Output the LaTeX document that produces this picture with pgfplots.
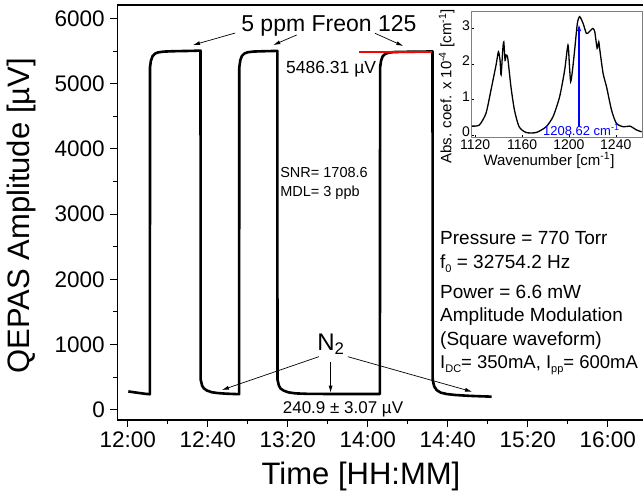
\documentclass[border=0pt]{standalone}
\usepackage{fontspec}
\setmainfont{Liberation Sans}
\usepackage{pgfplots}
\pgfplotsset{compat=1.18}
\usetikzlibrary{arrows.meta}

\newcommand{\fs}[1]{\fontsize{#1}{#1}\selectfont}
\newcommand{\lsub}[1]{\raisebox{-0.45ex}{\fs{11}#1}}

% QEPAS signal, time in minutes after 12:00, amplitude in microvolt
\pgfplotstableread{
t v
0.3 280
3 268
6 255
9 243
11.1 237
11.15 5250
11.6 5350
12.4 5420
13.6 5460
15.2 5480
18 5492
22 5497
26 5500
30 5502
34 5505
36.4 5508
36.5 460
37.2 370
38 330
39.5 295
42 268
45 255
49 246
53 241
55.7 238
55.8 5250
56.3 5360
57.1 5425
58.3 5462
60 5482
63 5493
67 5497
71 5500
74.8 5503
74.9 460
75.6 370
76.4 325
78 292
80.5 265
84 250
90 243
100 241
110 241
120 240
126.1 240
126.2 5250
126.7 5355
127.5 5420
128.7 5455
130.4 5475
133 5485
137 5488
142 5490
148 5492
152.4 5495
152.5 460
153.2 360
154.5 300
156.5 262
159.5 240
164 225
171 212
177 205
182 200
}\signal

% absorption spectrum of Freon 125
\pgfplotstableread{
w a
1117.2 0.25
1123.5 0.28
1129.2 0.61
1133.5 1.27
1137.8 1.97
1139.8 2.34
1141.2 2.10
1142.1 1.69
1143.5 2.39
1144.4 2.62
1145.5 2.10
1146.4 2.25
1147.8 2.16
1150.5 1.36
1153.5 0.70
1157.5 0.23
1163.5 0.07
1172.1 0.07
1180.5 0.23
1186.5 0.52
1192.1 1.08
1196.4 1.83
1199.2 2.53
1200.5 1.92
1201.5 1.50
1202.9 1.78
1204.9 2.39
1207.2 3.14
1209.2 3.33
1212.1 3.14
1214.9 2.86
1217.2 2.90
1220.5 3.00
1222.1 2.90
1224.1 2.44
1225.5 2.62
1226.4 2.39
1229.2 1.73
1232.1 1.36
1236.4 0.70
1240.5 0.33
1246.5 0.23
1252.1 0.25
1257.8 0.14
1262.1 0.09
}\spectrum

\begin{document}
\begin{tikzpicture}
\useasboundingbox (-117.3pt,-74pt) rectangle (525.7pt,420pt);
\begin{axis}[
    scale only axis,
    width=525.7pt, height=415pt,
    xmin=-5.2, xmax=257.65,
    ymin=-158, ymax=6207,
    axis y line*=left,
    xtick pos=bottom, ytick pos=left,
    xtick={0,40,...,240},
    xticklabels={12:00,12:40,13:20,14:00,14:40,15:20,16:00},
    ytick={0,1000,...,6000},
    minor x tick num=1, minor y tick num=1,
    tick align=outside,
    major tick length=7pt, minor tick length=4pt,
    every tick/.style={black, line width=1pt},
    axis line style={line width=1.2pt},
    /pgf/number format/assume math mode=true,
    /pgf/number format/1000 sep={},
    tick label style={font=\fs{22.5}},
    xticklabel style={yshift=-1pt},
    yticklabel style={xshift=-2pt},
    xlabel={Time [HH:MM]},
    ylabel={QEPAS Amplitude [µV]},
    label style={font=\fs{31}},
    xlabel style={at={(axis description cs:0.4636,-0.137)}, anchor=center},
    ylabel style={at={(axis description cs:-0.183,0.492)}, anchor=center},
    clip=false,
]
\addplot[black, line width=2.6pt, line join=round] table[x=t, y=v] {\signal};
\addplot[red, line width=2.2pt] coordinates {(115.8,5486.31) (152,5486.31)};

\node[font=\fs{23}, anchor=base] at (axis cs:100.6,5793) {5 ppm Freon 125};
\draw[-{Latex[length=7pt,width=4pt]}, line width=0.7pt] (axis cs:53.75,5777) -- (axis cs:32.65,5593);
\draw[-{Latex[length=7pt,width=4pt]}, line width=0.7pt] (axis cs:84.5,5747) -- (axis cs:72.8,5593);
\draw[-{Latex[length=7pt,width=4pt]}, line width=0.7pt] (axis cs:123.65,5773) -- (axis cs:137.8,5578);
\node[font=\fs{17.5}, anchor=base west, inner sep=0pt] at (axis cs:79.15,5149) {5486.31 µV};

\node[font=\fs{14.5}, anchor=base west, inner sep=0pt] at (axis cs:76.2,3554) {SNR= 1708.6};
\node[font=\fs{14.5}, anchor=base west, inner sep=0pt] at (axis cs:76.2,3267) {MDL= 3 ppb};

\node[font=\fs{24}, inner sep=0pt] at (axis cs:101.6,1000) {N\textsubscript{2}};
\draw[-{Latex[length=7pt,width=4pt]}, line width=0.7pt] (axis cs:95.6,813) -- (axis cs:47.1,302);
\draw[-{Latex[length=7pt,width=4pt]}, line width=0.7pt] (axis cs:101.45,736) -- (axis cs:101.45,261);
\draw[-{Latex[length=7pt,width=4pt]}, line width=0.7pt] (axis cs:110.05,813) -- (axis cs:172.15,276);
\node[font=\fs{17}, anchor=base, inner sep=0pt] at (axis cs:107.65,-55) {240.9 ± 3.07 µV};

\node[font=\fs{19}, anchor=base west, inner sep=0pt] at (axis cs:156.15,2526) {Pressure = 770 Torr};
\node[font=\fs{19}, anchor=base west, inner sep=0pt] at (axis cs:156.15,2169) {f\lsub{0} = 32754.2 Hz};
\node[font=\fs{19}, anchor=base west, inner sep=0pt] at (axis cs:156.15,1709) {Power = 6.6 mW};
\node[font=\fs{19}, anchor=base west, inner sep=0pt] at (axis cs:156.15,1350) {Amplitude Modulation};
\node[font=\fs{19}, anchor=base west, inner sep=0pt] at (axis cs:156.15,992) {(Square waveform)};
\node[font=\fs{18.5}, anchor=base west, inner sep=0pt] at (axis cs:156.15,635) {I\lsub{DC}= 350mA, I\lsub{pp}= 600mA};
\end{axis}

\begin{axis}[
    at={(354.4pt,282.7pt)}, anchor=south west,
    scale only axis,
    width=171pt, height=125.6pt,
    xmin=1117, xmax=1263,
    ymin=-0.065, ymax=3.47,
    xtick={1120,1160,1200,1240},
    ytick={0,1,2,3},
    xtick pos=bottom, ytick pos=left,
    tick align=inside,
    major tick length=2.5pt,
    every tick/.style={black, line width=0.5pt},
    axis line style={gray, line width=0.8pt},
    /pgf/number format/assume math mode=true,
    /pgf/number format/1000 sep={},
    tick label style={font=\fs{14}},
    xticklabel style={inner sep=1pt, yshift=-1.5pt},
    yticklabel style={inner sep=1.5pt, yshift=3pt},
    xlabel={Wavenumber [cm\textsuperscript{-1}]},
    ylabel={Abs. coef. x 10\textsuperscript{-4} [cm\textsuperscript{-1}]},
    label style={font=\fs{15}},
    xlabel style={at={(axis description cs:0.452,-0.185)}, anchor=center},
    ylabel style={at={(axis description cs:-0.146,0.404)}, anchor=center},
    clip=false,
]
\addplot[black, line width=1.3pt, smooth, tension=0.4] table[x=w, y=a] {\spectrum};
\draw[-{Latex[length=7pt,width=4.5pt]}, color=blue, line width=1.2pt] (axis cs:1208.62,0.25) -- (axis cs:1208.62,3.12);
\node[font=\fs{13}, text=blue, inner sep=0pt] at (axis cs:1210.6,0.14) {1208.62 cm\textsuperscript{-1}};
\end{axis}
\end{tikzpicture}
\end{document}
